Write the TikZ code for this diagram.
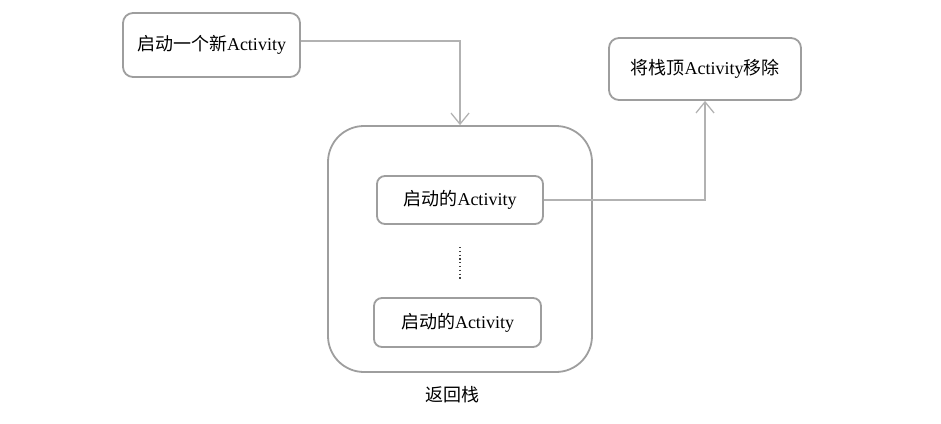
\documentclass[tikz,border=0pt]{standalone}
\usepackage{fontspec}
\setmainfont{Liberation Serif}
\newfontfamily\cjk{Noto Sans CJK SC}
\usetikzlibrary{positioning,arrows.meta}

\begin{document}
\begin{tikzpicture}[x=1pt,y=-1pt,font=\fontsize{18}{21}\selectfont,
    box/.style={draw=black!38, line width=1.8pt, rounded corners=10pt, fill=white},
    link/.style={draw=black!30, line width=1.1pt, -{Straight Barb[length=11pt,width=18pt,line width=1.3pt]}}]
  % Canvas
  \useasboundingbox (0,0) rectangle (941,423);

  % Outer boxes
  \node[box, minimum width=177pt, minimum height=64pt] (startBox) at (211.5,45) {{\cjk 启动一个新}Activity};
  \node[box, minimum width=192pt, minimum height=62pt] (popBox) at (705,69) {{\cjk 将栈顶}Activity{\cjk 移除}};

  % Back stack
  \node[box, rounded corners=36pt, minimum width=264pt, minimum height=246pt] (stackBox) at (460,249) {};
  \node[box, rounded corners=8pt, minimum width=166pt, minimum height=48pt] (topAct) at (460,200) {{\cjk 启动的}Activity};
  \node[box, rounded corners=8pt, minimum width=167pt, minimum height=49pt] (bottomAct) at (457.5,322.5) {{\cjk 启动的}Activity};
  \draw[black!75, line width=1.2pt, dash pattern=on 1.2pt off 2.6pt] (460,247) -- (460,279);
  \node[below=10pt of stackBox, xshift=-8pt] (stackLabel) {\cjk 返回栈};

  % Arrows
  \draw[link] ([yshift=4pt]startBox.east) -| (stackBox.north);
  \draw[link] (topAct.east) -| (popBox.south);
\end{tikzpicture}
\end{document}
